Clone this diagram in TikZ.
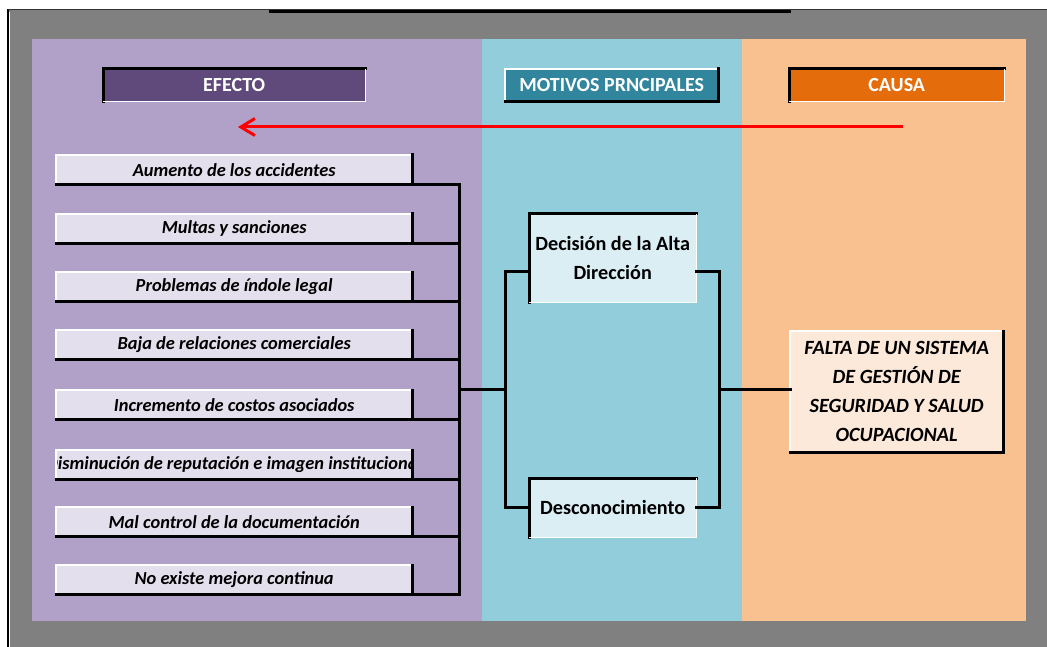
\documentclass[tikz,border=0pt]{standalone}
\usepackage{fontspec}
\setmainfont{Carlito}
\usetikzlibrary{arrows.meta}
\definecolor{framegray}{HTML}{808080}
\definecolor{panelpurple}{HTML}{B1A0C7}
\definecolor{panelblue}{HTML}{92CDDC}
\definecolor{panelorange}{HTML}{F9C090}
\definecolor{hdrpurple}{HTML}{604A7B}
\definecolor{hdrteal}{HTML}{31859C}
\definecolor{hdrorange}{HTML}{E46C0A}
\definecolor{lavbox}{HTML}{E4DFEC}
\definecolor{bluebox}{HTML}{DBEEF4}
\definecolor{peachbox}{HTML}{FDE9D9}
\newcommand\mytlb[1]{%
  \draw[blk] (#1.south west) -- (#1.north west) -- (#1.north east);
  \draw[wht] (#1.north east) -- (#1.south east) -- (#1.south west);}
\newcommand\mybrb[1]{%
  \draw[wht] (#1.south west) -- (#1.north west) -- (#1.north east);
  \draw[blk] (#1.north east) -- (#1.south east) -- (#1.south west);}
\tikzset{
  blk/.style={draw=black, line width=3pt, line cap=rect},
  wht/.style={draw=white, line width=1.5pt},
  hdr/.style={rectangle, anchor=north west, inner sep=0pt, text=white,
    font=\fontsize{20}{22}\selectfont\bfseries},
  efftext/.style={font=\fontsize{18.4}{20}\selectfont\bfseries\itshape},
  effbox/.style={rectangle, anchor=north west, inner sep=0pt, fill=lavbox,
    minimum width=356pt, minimum height=29pt, efftext},
  motbox/.style={rectangle, anchor=north west, inner sep=0pt, fill=bluebox,
    minimum width=167pt, align=center,
    font=\fontsize{20.2}{29}\selectfont\bfseries},
  wire/.style={draw=black, line width=3pt, line cap=rect},
}
\begin{document}
\begin{tikzpicture}[x=1pt,y=-1pt]
\path[use as bounding box] (0,0) rectangle (1047,647);
% frame
\fill[framegray] (8,10) rectangle (1047,647);
\draw[black, line width=2pt] (8,9) -- (8,647);
\draw[black!80, line width=0.8pt] (8,9.5) -- (1047,9.5);
\draw[black, line width=3pt] (269,11.5) -- (791,11.5);
\draw[white, line width=0.8pt] (9.6,12) -- (9.6,647);
% panels
\fill[panelpurple] (32,39) rectangle (482,621);
\fill[panelblue] (482,39) rectangle (742,621);
\fill[panelorange] (742,39) rectangle (1026,621);
% headers
\node[hdr, fill=hdrpurple, minimum width=262pt, minimum height=32pt] (hefecto) at (103,69) {EFECTO};
\mytlb{hefecto}
\node[hdr, fill=hdrteal, minimum width=213pt, minimum height=32pt] (hmotivos) at (505,69) {MOTIVOS PRNCIPALES};
\mybrb{hmotivos}
\node[hdr, fill=hdrorange, minimum width=215pt, minimum height=32pt] (hcausa) at (789,69) {CAUSA};
\mytlb{hcausa}
% red arrow
\coordinate (arrstart) at (903,127);
\coordinate (arrend) at (238,127);
\draw[red, line width=3pt, -{Straight Barb[length=14pt,width=17pt,line width=3pt]}] (arrstart) -- (arrend);
% effect boxes
\node[effbox] (e1) at (56,155) {Aumento de los accidentes};
\node[effbox] (e2) at (56,214) {Multas y sanciones};
\node[effbox] (e3) at (56,272) {Problemas de índole legal};
\node[effbox] (e4) at (56,330) {Baja de relaciones comerciales};
\node[effbox] (e5) at (56,390) {Incremento de costos asociados};
\node[effbox] (e6) at (56,450) {};
\begin{scope}
\clip (e6.north west) rectangle (e6.south east);
\node[efftext, inner sep=0pt] (e6t) at (e6.center) {Disminución de reputación e imagen institucional};
\end{scope}
\node[effbox] (e7) at (56,507) {Mal control de la documentación};
\node[effbox] (e8) at (56,565) {No existe mejora continua};
\coordinate (busx) at (459,0);
\foreach \n in {e1,e2,e3,e4,e5,e6,e7,e8}{
  \draw[wht] (\n.south west) -- (\n.north west) -- (\n.north east);
  \draw[blk] (\n.north east) -- (\n.south east);
  \draw[wire] (\n.south west) -- (\n.south west -| busx);
}
\draw[wire] (e1.south west -| busx) -- (e8.south west -| busx);
% motive boxes
\node[motbox, minimum height=88pt] (m1) at (529,214) {Decisión de la Alta\\Dirección};
\mytlb{m1}
\node[motbox, minimum height=59pt] (m2) at (529,478) {Desconocimiento};
\mytlb{m2}
% cause box
\node[rectangle, anchor=north west, inner sep=0pt, fill=peachbox,
  minimum width=213pt, minimum height=121pt, align=center,
  font=\fontsize{20.2}{29}\selectfont\bfseries\itshape] (c1) at (790,331)
  {FALTA DE UN SISTEMA\\DE GESTIÓN DE\\SEGURIDAD Y SALUD\\OCUPACIONAL};
\mybrb{c1}
% brackets
\coordinate (busmid) at (459,389);
\coordinate (lbr) at (505,389);
\coordinate (rbr) at (719,389);
\coordinate (m1j) at (529,271);
\coordinate (m2j) at (529,507);
\coordinate (m1k) at (696,271);
\coordinate (m2k) at (696,507);
\draw[wire] (busmid) -- (lbr);
\draw[wire] (m1j) -- (m1j -| lbr) -- (m2j -| lbr) -- (m2j);
\draw[wire] (m1k) -- (m1k -| rbr) -- (m2k -| rbr) -- (m2k);
\draw[wire] (rbr) -- (rbr -| c1.west);
\end{tikzpicture}
\end{document}
